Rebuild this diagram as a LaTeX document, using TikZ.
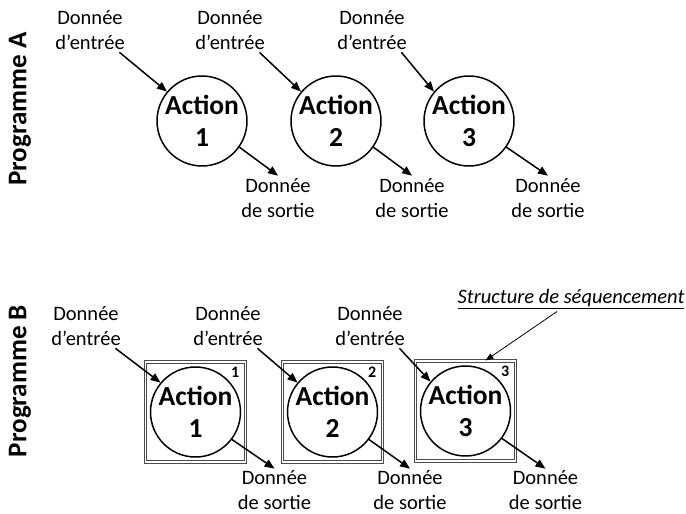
\documentclass[tikz,border=0pt]{standalone}
\usepackage{fontspec}
\setmainfont{Carlito}
\usetikzlibrary{arrows.meta,positioning}

\begin{document}
\begin{tikzpicture}[x=1bp,y=-1bp,->,>={Triangle[length=10bp,width=8bp]},line width=1.5bp,
				action node/.style={circle,draw,minimum size=89bp,inner sep=0pt,align=center,font=\bfseries\fontsize{27.5bp}{32bp}\selectfont},
				data node/.style={align=center,inner sep=2bp,font=\fontsize{20.5bp}{25bp}\selectfont},
				seq box/.style={draw=black!70,double,double distance=1.1bp,line width=1bp,minimum size=100bp,inner sep=0pt},
				seq num/.style={inner sep=0pt,font=\bfseries\fontsize{16bp}{16bp}\selectfont},
				prog label/.style={rotate=90,font=\bfseries\fontsize{27bp}{31bp}\selectfont}]
				
				\useasboundingbox (0,0) rectangle (686,514);
				
				% Programme A
				\node[prog label] (pa) at (20,109) {Programme A};
				\node[action node] (a1) at (202,121) {Action\\1};
				\node[action node] (a2) at (336,121) {Action\\2};
				\node[action node] (a3) at (469,121) {Action\\3};
				
				\node[data node] (ia1) at (90,30) {Donnée\\d’entrée};
				\node[data node] (ia2) at (230,30) {Donnée\\d’entrée};
				\node[data node] (ia3) at (372,30) {Donnée\\d’entrée};
				\node[data node] (oa1) at (278,198) {Donnée\\de sortie};
				\node[data node] (oa2) at (412,198) {Donnée\\de sortie};
				\node[data node] (oa3) at (548,198) {Donnée\\de sortie};
				
				\draw ([xshift=-8bp]ia1.south east) -- (a1.140);
				\draw ([xshift=-8bp]ia2.south east) -- (a2.140);
				\draw ([xshift=-8bp]ia3.south east) -- (a3.140);
				\draw (a1.-35) -- (oa1.north);
				\draw (a2.-35) -- (oa2.north);
				\draw (a3.-35) -- (oa3.north);
				
				% Programme B
				\node[prog label] (pb) at (20,381) {Programme B};
				\node[seq box] (b1) at (195.5,412) {};
				\node[seq box] (b2) at (332.5,412) {};
				\node[seq box] (b3) at (465.5,411) {};
				\node[action node] (c1) at (b1) {Action\\1};
				\node[action node] (c2) at (b2) {Action\\2};
				\node[action node] (c3) at (b3) {Action\\3};
				\node[seq num,below left=5bp and 6bp of b1.north east] (n1) {1};
				\node[seq num,below left=5bp and 6bp of b2.north east] (n2) {2};
				\node[seq num,below left=5bp and 6bp of b3.north east] (n3) {3};
				
				\node[data node] (ib1) at (86,326) {Donnée\\d’entrée};
				\node[data node] (ib2) at (228,326) {Donnée\\d’entrée};
				\node[data node] (ib3) at (370,326) {Donnée\\d’entrée};
				\node[data node,inner sep=1bp] (ob1) at (274.5,490) {Donnée\\de sortie};
				\node[data node,inner sep=1bp] (ob2) at (410,490) {Donnée\\de sortie};
				\node[data node,inner sep=1bp] (ob3) at (545.5,490) {Donnée\\de sortie};
				
				\draw ([xshift=-8bp]ib1.south east) -- (c1.140);
				\draw ([xshift=-8bp]ib2.south east) -- (c2.140);
				\draw ([xshift=-8bp]ib3.south east) -- (c3.140);
				\draw (c1.-37) -- (ob1.north);
				\draw (c2.-37) -- (ob2.north);
				\draw (c3.-37) -- (ob3.north);
				
				\node[data node,font=\itshape\fontsize{20.5bp}{25bp}\selectfont] (seq) at (571,299) {\underline{Structure de séquencement}};
				\draw[line width=0.8bp,-{Triangle[length=8bp,width=6bp]}] ([xshift=-14bp]seq.south) -- ([xshift=20bp]b3.north);
				
\end{tikzpicture}
\end{document}
